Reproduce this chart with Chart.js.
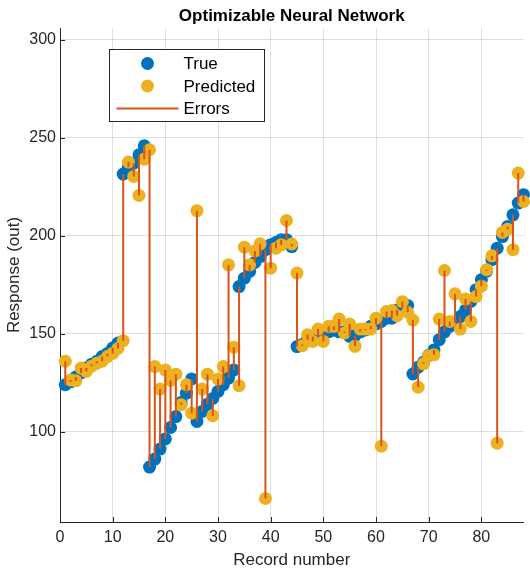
<!DOCTYPE html>
<html>
<head>
<meta charset="utf-8">
<title>Optimizable Neural Network</title>
<script src="https://cdn.jsdelivr.net/npm/chart.js@4.4.1/dist/chart.umd.min.js"></script>
<style>
  html, body { margin: 0; padding: 0; background: #fff; }
  #wrap { width: 530px; height: 573px; }
</style>
</head>
<body>
<div id="wrap"><canvas id="chart" width="530" height="573"></canvas></div>
<script>
'use strict';

// record index on the x axis
var records = [
    1, 2, 3, 4, 5, 6, 7, 8, 9, 10, 11, 12, 13, 14, 15, 16, 17, 18, 19, 20,
    21, 22, 23, 24, 25, 26, 27, 28, 29, 30, 31, 32, 33, 34, 35, 36, 37, 38, 39, 40,
    41, 42, 43, 44, 45, 46, 47, 48, 49, 50, 51, 52, 53, 54, 55, 56, 57, 58, 59, 60,
    61, 62, 63, 64, 65, 66, 67, 68, 69, 70, 71, 72, 73, 74, 75, 76, 77, 78, 79, 80,
    81, 82, 83, 84, 85, 86, 87, 88
];

// observed response
var trueValues = [
    124, 125.5, 128, 130, 132.5, 134.5, 136, 138.4, 140, 142.7, 145.3, 231.5, 235, 237, 241.3, 245.9, 82, 86.1, 91.2, 96.4,
    102.2, 107.8, 115, 119.7, 127, 105.3, 110.4, 114.1, 117, 120.6, 124, 127.4, 131.6, 174.1, 178.4, 181.8, 186.4, 189.4, 192.9, 195.4,
    196.6, 198, 198, 194.5, 143.5, 144.5, 147, 148.5, 149, 150.4, 151, 152, 151, 151, 148.7, 149, 151, 152, 153.8, 155,
    156.3, 158, 158, 162.2, 163, 164.5, 129.5, 133, 135.5, 139, 141.8, 147, 151, 153.8, 155.5, 158.8, 162.2, 166.5, 172.5, 177.6,
    182, 187.8, 193.7, 199.6, 204.8, 210.7, 216.7, 221
];

// model prediction
var predictedValues = [
    136, 126.5, 126, 132.5, 130.8, 133.5, 135, 136, 138.4, 140, 142.5, 146.5, 237.6, 230.3, 220.6, 239.1, 243.9, 133.3, 121.8, 131.6,
    126.2, 129.4, 113.8, 124, 109.5, 212.8, 121.8, 129.4, 108.2, 126.9, 133.3, 185.2, 143.2, 123.5, 194.2, 185.2, 192.3, 195.9, 66, 183.5,
    193.7, 195.4, 207.8, 195.8, 181, 143.9, 149.5, 146.1, 152.4, 146.1, 153.8, 153.8, 157.5, 150.4, 155, 143.6, 152.4, 152.4, 152.4, 158,
    92.7, 161.4, 161.9, 159.2, 166.4, 161, 157, 122.8, 134.7, 138.8, 139.3, 157.5, 182.3, 156.3, 170.4, 152.4, 167.7, 156.3, 169, 174.3,
    182.7, 189.8, 94.2, 201.7, 203.4, 192.9, 232, 217.5
];

var xTicks = [0, 10, 20, 30, 40, 50, 60, 70, 80];
var yTicks = [100, 150, 200, 250, 300];
var seriesNames = ['True', 'Predicted', 'Errors'];
var chartTitle = 'Optimizable Neural Network';

var colors = {
    trueColor: '#0072BD',
    predColor: '#EDB120',
    errColor: '#D95319',
    axis: '#262626',
    grid: 'rgba(38,38,38,0.15)'
};
var fontFamily = '"Liberation Sans", Arial, Helvetica, sans-serif';

/**
 * Build {x, y} points from two arrays.
 * @param {Array} xs x values
 * @param {Array} ys y values
 * @returns {Array}
 */
function toPoints(xs, ys) {
    return xs.map(function(x, i) {
        return {x: x, y: ys[i]};
    });
}

/**
 * Vertical error segments, broken by null gaps.
 * @returns {Array}
 */
function errorSegments() {
    var pts = [];
    records.forEach(function(r, i) {
        pts.push({x: r, y: trueValues[i]});
        pts.push({x: r, y: predictedValues[i]});
        pts.push({x: r, y: null});
    });
    return pts;
}

function fixedTicks(values) {
    return function(scale) {
        scale.ticks = values.map(function(v) {
            return {value: v};
        });
    };
}

// title centred over the axes, not the canvas
var axesTitle = {
    id: 'axesTitle',
    afterDraw: function(chart) {
        var ctx = chart.ctx,
            area = chart.chartArea;
        ctx.save();
        ctx.fillStyle = '#000';
        ctx.font = 'bold 17px ' + fontFamily;
        ctx.textAlign = 'center';
        ctx.textBaseline = 'middle';
        ctx.fillText(chartTitle, (area.left + area.right) / 2, area.top - 12);
        ctx.restore();
    }
};

// MATLAB style ticks pointing into the axes
var innerTicks = {
    id: 'innerTicks',
    afterDraw: function(chart) {
        var ctx = chart.ctx,
            area = chart.chartArea,
            xs = chart.scales.x,
            ys = chart.scales.y;
        ctx.save();
        ctx.strokeStyle = colors.axis;
        ctx.lineWidth = 1;
        ctx.beginPath();
        xTicks.forEach(function(v) {
            var px = Math.round(xs.getPixelForValue(v)) + 0.5;
            ctx.moveTo(px, area.bottom);
            ctx.lineTo(px, area.bottom - 5);
        });
        yTicks.forEach(function(v) {
            var py = Math.round(ys.getPixelForValue(v)) + 0.5;
            ctx.moveTo(area.left, py);
            ctx.lineTo(area.left + 5, py);
        });
        ctx.stroke();
        ctx.restore();
    }
};

// legend box in the upper left of the axes
var boxLegend = {
    id: 'boxLegend',
    afterDraw: function(chart) {
        var ctx = chart.ctx,
            area = chart.chartArea,
            left = Math.round(area.left + 49) + 0.5,
            top = Math.round(area.top + 21) + 0.5,
            w = 155,
            h = 72,
            rowY = [top + 14, top + 36.5, top + 59],
            markX = left + 38,
            textX = left + 74;

        ctx.save();
        ctx.fillStyle = '#fff';
        ctx.fillRect(left, top, w, h);
        ctx.strokeStyle = colors.axis;
        ctx.lineWidth = 1;
        ctx.strokeRect(left, top, w, h);

        ctx.fillStyle = colors.trueColor;
        ctx.beginPath();
        ctx.arc(markX, rowY[0], 6.5, 0, Math.PI * 2);
        ctx.fill();

        ctx.fillStyle = colors.predColor;
        ctx.beginPath();
        ctx.arc(markX, rowY[1], 6.5, 0, Math.PI * 2);
        ctx.fill();

        ctx.strokeStyle = colors.errColor;
        ctx.lineWidth = 2;
        ctx.beginPath();
        ctx.moveTo(left + 7, rowY[2]);
        ctx.lineTo(left + 69, rowY[2]);
        ctx.stroke();

        ctx.fillStyle = '#000';
        ctx.font = '17px ' + fontFamily;
        ctx.textBaseline = 'middle';
        seriesNames.forEach(function(name, i) {
            ctx.fillText(name, textX, rowY[i] + 1);
        });
        ctx.restore();
    }
};

new Chart(document.getElementById('chart'), {
    type: 'scatter',
    data: {
        datasets: [
            {
                label: seriesNames[0],
                data: toPoints(records, trueValues),
                backgroundColor: colors.trueColor,
                borderWidth: 0,
                pointRadius: 6.5,
                order: 3,
                clip: false
            },
            {
                label: seriesNames[1],
                data: toPoints(records, predictedValues),
                backgroundColor: colors.predColor,
                borderWidth: 0,
                pointRadius: 6.5,
                order: 2,
                clip: false
            },
            {
                label: seriesNames[2],
                type: 'line',
                data: errorSegments(),
                borderColor: colors.errColor,
                borderWidth: 2,
                pointRadius: 0,
                spanGaps: false,
                order: 1,
                clip: false
            }
        ]
    },
    options: {
        responsive: false,
        devicePixelRatio: 1,
        animation: false,
        layout: {padding: {left: 0, right: 2, top: 28, bottom: 0}},
        plugins: {
            legend: {display: false},
            tooltip: {enabled: false},
            title: {display: false}
        },
        scales: {
            x: {
                type: 'linear',
                min: 0,
                max: 88,
                afterBuildTicks: fixedTicks(xTicks),
                afterFit: function(scale) { scale.height = 51; },
                grid: {color: colors.grid, drawTicks: false},
                border: {color: colors.axis, width: 1},
                ticks: {
                    color: colors.axis,
                    padding: 6,
                    maxRotation: 0,
                    font: {family: fontFamily, size: 16}
                },
                title: {
                    display: true,
                    text: 'Record number',
                    color: colors.axis,
                    font: {family: fontFamily, size: 17},
                    padding: {top: 0, bottom: 2}
                }
            },
            y: {
                type: 'linear',
                min: 54,
                max: 306,
                afterBuildTicks: fixedTicks(yTicks),
                afterFit: function(scale) { scale.width = 60; },
                grid: {color: colors.grid, drawTicks: false},
                border: {color: colors.axis, width: 1},
                ticks: {
                    color: colors.axis,
                    padding: 4,
                    font: {family: fontFamily, size: 16}
                },
                title: {
                    display: true,
                    text: 'Response (out)',
                    color: colors.axis,
                    font: {family: fontFamily, size: 17},
                    padding: {top: 4, bottom: 0}
                }
            }
        }
    },
    plugins: [innerTicks, boxLegend, axesTitle]
});
</script>
</body>
</html>
